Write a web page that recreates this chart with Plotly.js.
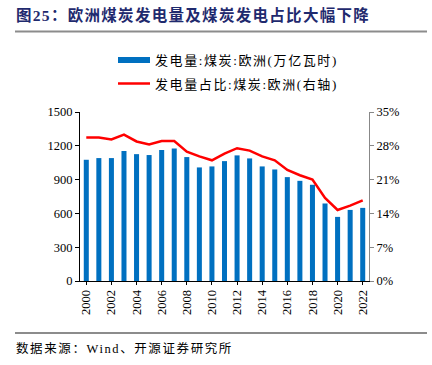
<!DOCTYPE html>
<html><head><meta charset="utf-8">
<script src="https://cdn.plot.ly/plotly-3.0.1.min.js"></script>
<style>html,body{margin:0;padding:0;background:#fff;}#c{width:432px;height:365px;}</style>
</head><body><div id="c"></div>
<script>
const years = [2000,2001,2002,2003,2004,2005,2006,2007,2008,2009,2010,2011,2012,2013,2014,2015,2016,2017,2018,2019,2020,2021,2022];
const coalGen = [1076,1091,1091,1153,1126,1118,1162,1177,1100,1008,1017,1064,1115,1088,1017,990,922,889,854,688,569,631,649];
const coalShare = [29.7,29.7,29.3,30.3,28.9,28.3,29.0,29.0,26.8,25.8,25.0,26.4,27.5,27.0,25.8,25.0,23.0,21.9,21.0,17.2,14.7,15.6,16.7];
const xTicks = [2000,2002,2004,2006,2008,2010,2012,2014,2016,2018,2020,2022];
const leftTicks = [0,300,600,900,1200,1500];
const rightTicks = [0,7,14,21,28,35];
const titleText = '图25：欧洲煤炭发电量及煤炭发电占比大幅下降';
const barName = '发电量:煤炭:欧洲(万亿瓦时)';
const lineName = '发电量占比:煤炭:欧洲(右轴)';
const sourceText = '数据来源：Wind、开源证券研究所';

const F = '"Liberation Serif", "Noto Sans CJK SC", serif';
const L = 80, R = 369, T = 112, B = 281;
const px = x => (x - L) / (R - L);
const py = y => (B - y) / (B - T);

const traces = [
  {type:'bar', x:years, y:coalGen, name:barName, marker:{color:'#0070C0'}, yaxis:'y', showlegend:false},
  {type:'scatter', mode:'lines', x:years, y:coalShare, name:lineName, line:{color:'#FF0000', width:2.5}, yaxis:'y2', showlegend:false}
];

const layout = {
  width:432, height:365,
  margin:{l:L, r:432-R, t:T, b:365-B, pad:0},
  paper_bgcolor:'#fff', plot_bgcolor:'#fff',
  font:{family:F, size:12, color:'#000'},
  bargap:0.6,
  xaxis:{range:[1999.5,2022.5], tickmode:'array', tickvals:xTicks, ticktext:xTicks.map(String),
    tickangle:-90, showgrid:false, zeroline:false, showline:true, linecolor:'#000', linewidth:1,
    ticks:'outside', ticklen:3, tickcolor:'#000', tickfont:{family:F, size:12.5}},
  yaxis:{range:[0,1500], tickmode:'array', tickvals:leftTicks, showgrid:false, zeroline:false,
    showline:true, linecolor:'#000', linewidth:1, ticks:'outside', ticklen:4, tickcolor:'#000',
    tickfont:{family:F, size:12.5}},
  yaxis2:{range:[0,35], overlaying:'y', side:'right', tickmode:'array', tickvals:rightTicks,
    ticktext:rightTicks.map(v=>v+'%'), showgrid:false, zeroline:false, showline:true,
    linecolor:'#888', linewidth:1, ticks:'outside', ticklen:4, tickcolor:'#888', tickfont:{family:F, size:12.5}},
  shapes:[
    {type:'line', xref:'paper', yref:'paper', x0:px(15), x1:px(427), y0:py(31.5), y1:py(31.5), line:{color:'#8c8c8c', width:2}},
    {type:'line', xref:'paper', yref:'paper', x0:px(15), x1:px(427), y0:py(333), y1:py(333), line:{color:'#8c8c8c', width:2}},
    {type:'rect', xref:'paper', yref:'paper', x0:px(118), x1:px(150), y0:py(63), y1:py(57), fillcolor:'#0070C0', line:{width:0}},
    {type:'line', xref:'paper', yref:'paper', x0:px(118), x1:px(150), y0:py(83.5), y1:py(83.5), line:{color:'#FF0000', width:2.5}}
  ],
  annotations:[
    {xref:'paper', yref:'paper', x:px(16), y:py(15), xanchor:'left', yanchor:'middle', showarrow:false,
      text:'<b>'+titleText+'</b>', font:{family:F, size:15.5, color:'#1F2A6E'}},
    {xref:'paper', yref:'paper', x:px(155), y:py(60), xanchor:'left', yanchor:'middle', showarrow:false,
      text:barName, font:{family:F, size:13, color:'#000'}},
    {xref:'paper', yref:'paper', x:px(155), y:py(84), xanchor:'left', yanchor:'middle', showarrow:false,
      text:lineName, font:{family:F, size:13, color:'#000'}},
    {xref:'paper', yref:'paper', x:px(16), y:py(348), xanchor:'left', yanchor:'middle', showarrow:false,
      text:sourceText, font:{family:F, size:12.5, color:'#000'}}
  ]
};
Plotly.newPlot('c', traces, layout, {displayModeBar:false, staticPlot:true}).then(() => {
  const spacing = [1.3, 1.6, 1.6, 1.6];
  const lefts = [16, 155, 155, 16];
  const root = document.getElementById('c').getBoundingClientRect();
  document.querySelectorAll('#c .annotation-text').forEach((el, i) => {
    el.style.letterSpacing = (spacing[i] || 0) + 'px';
    const r = el.getBoundingClientRect();
    const dx = lefts[i] - (r.left - root.left);
    const x0 = parseFloat(el.getAttribute('x') || '0');
    el.setAttribute('x', x0 + dx);
    el.querySelectorAll('tspan[x]').forEach(t => {
      t.setAttribute('x', parseFloat(t.getAttribute('x')) + dx);
    });
  });
});
</script></body></html>
